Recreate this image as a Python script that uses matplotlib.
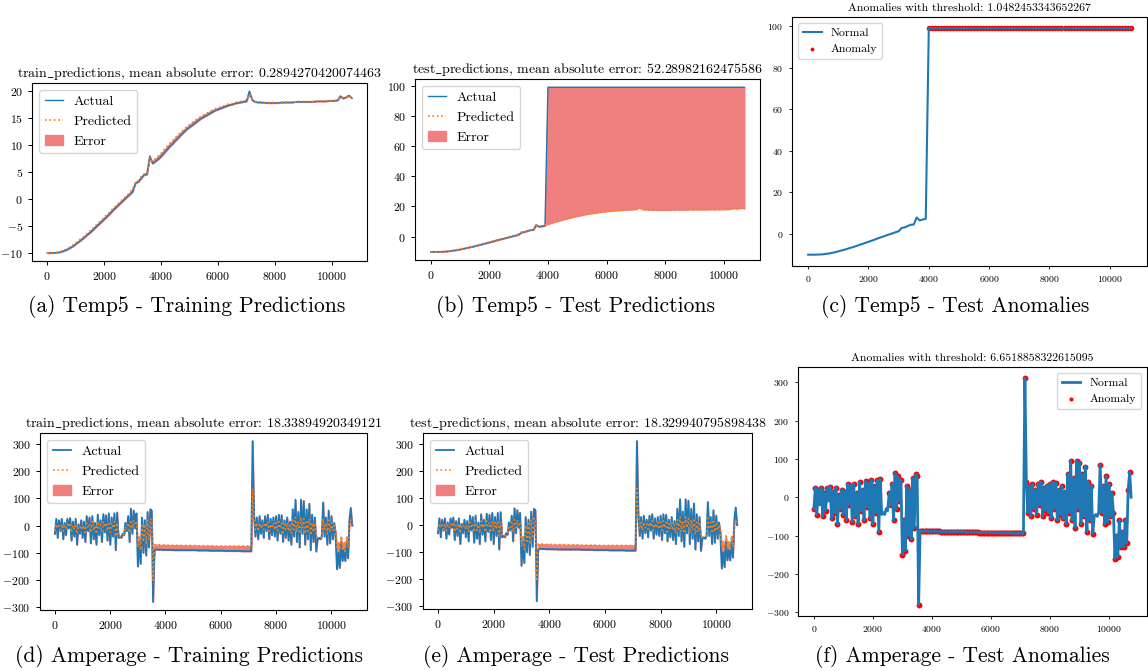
"""Temp5 / Amperage prediction and anomaly panels."""

import numpy as np
import matplotlib
matplotlib.use("Agg")
import matplotlib.pyplot as plt

plt.rcParams["font.family"] = ["cmr10", "DejaVu Serif"]
plt.rcParams["mathtext.fontset"] = "cm"
plt.rcParams["mathtext.default"] = "rm"
plt.rcParams["axes.formatter.use_mathtext"] = True

# ---- Temp5, sampled every 100 steps (0 .. 10700) ----
temp_x = np.arange(0, 10800, 100)
temp_actual = [
    -10.0, -10.0, -10.0, -9.95, -9.9, -9.8, -9.6, -9.4, -9.1, -8.8,
    -8.4, -8.0, -7.6, -7.2, -6.7, -6.3, -5.8, -5.3, -4.8, -4.3,
    -3.8, -3.3, -2.8, -2.2, -1.7, -1.2, -0.7, -0.2, 0.3, 0.8,
    1.3, 2.9, 3.1, 3.8, 4.4, 4.5, 7.9, 6.5, 6.9, 7.3,
    7.8, 8.4, 9.0, 9.6, 10.1, 10.7, 11.2, 11.8, 12.3, 12.8,
    13.2, 13.6, 14.0, 14.4, 14.8, 15.1, 15.4, 15.7, 16.0, 16.3,
    16.5, 16.7, 16.9, 17.1, 17.3, 17.4, 17.6, 17.7, 17.8, 17.9,
    18.0, 19.9, 18.2, 17.9, 17.8, 17.8, 17.8, 17.7, 17.7, 17.7,
    17.7, 17.7, 17.8, 17.8, 17.8, 17.8, 17.8, 17.9, 17.9, 17.9,
    17.9, 17.9, 17.9, 17.9, 18.0, 18.0, 18.0, 18.0, 18.0, 18.1,
    18.1, 18.1, 18.2, 19.0, 18.5, 18.8, 19.1, 18.6,
]
temp_pred = [
    -10.0, -10.0, -9.95, -9.9, -9.8, -9.65, -9.45, -9.2, -8.9, -8.55,
    -8.15, -7.75, -7.3, -6.9, -6.4, -5.95, -5.45, -4.95, -4.45, -3.95,
    -3.45, -2.95, -2.4, -1.85, -1.35, -0.85, -0.35, 0.15, 0.65, 1.1,
    1.8, 3.1, 3.4, 4.1, 4.6, 4.8, 7.6, 6.9, 7.4, 7.9,
    8.4, 9.0, 9.6, 10.2, 10.7, 11.3, 11.8, 12.3, 12.8, 13.3,
    13.7, 14.1, 14.5, 14.9, 15.2, 15.5, 15.8, 16.1, 16.4, 16.6,
    16.8, 17.0, 17.2, 17.4, 17.5, 17.6, 17.8, 17.9, 18.0, 18.1,
    18.2, 19.3, 18.4, 18.0, 17.9, 17.9, 17.8, 17.8, 17.8, 17.8,
    17.8, 17.8, 17.8, 17.9, 17.9, 17.9, 17.9, 17.9, 18.0, 18.0,
    18.0, 18.0, 18.0, 18.0, 18.0, 18.1, 18.1, 18.1, 18.1, 18.1,
    18.2, 18.2, 18.3, 18.8, 18.7, 18.8, 19.0, 18.7,
]
# test set: sensor jumps to 99 at ~3950 and stays there
temp_test_actual = [
    -10.0, -10.0, -10.0, -9.95, -9.9, -9.8, -9.6, -9.4, -9.1, -8.8,
    -8.4, -8.0, -7.6, -7.2, -6.7, -6.3, -5.8, -5.3, -4.8, -4.3,
    -3.8, -3.3, -2.8, -2.2, -1.7, -1.2, -0.7, -0.2, 0.3, 0.8,
    1.3, 2.9, 3.1, 3.8, 4.4, 4.5, 7.9, 6.5, 6.9, 7.3,
    99.0, 99.0, 99.0, 99.0, 99.0, 99.0, 99.0, 99.0, 99.0, 99.0,
    99.0, 99.0, 99.0, 99.0, 99.0, 99.0, 99.0, 99.0, 99.0, 99.0,
    99.0, 99.0, 99.0, 99.0, 99.0, 99.0, 99.0, 99.0, 99.0, 99.0,
    99.0, 99.0, 99.0, 99.0, 99.0, 99.0, 99.0, 99.0, 99.0, 99.0,
    99.0, 99.0, 99.0, 99.0, 99.0, 99.0, 99.0, 99.0, 99.0, 99.0,
    99.0, 99.0, 99.0, 99.0, 99.0, 99.0, 99.0, 99.0, 99.0, 99.0,
    99.0, 99.0, 99.0, 99.0, 99.0, 99.0, 99.0, 99.0,
]
temp_test_pred = temp_pred

# ---- Amperage, sampled every 50 steps (0 .. 10750) ----
amp_x = np.arange(0, 10800, 50)
amp_actual = [
    -30, 25, -45, 20, -20, 25, -50, 10, -35, 25,
    -10, 28, -55, 15, -40, 25, -70, 5, -30, 20,
    -45, 15, -60, 35, -20, 30, -65, 35, -50, 10,
    -70, 40, -35, 20, -60, 42, -25, 38, -55, 45,
    -70, 30, -40, 45, -90, 48, -45, -40, -45, -30,
    -35, 10, -20, 35, -60, 62, -30, 55, -10, 45,
    -150, -60, -140, 30, -100, 20, -110, 50, -80, 60,
    55, -280, -88, -88, -88, -88, -88, -88, -89, -89,
    -89, -89, -89, -89, -89, -89, -90, -90, -90, -90,
    -90, -90, -90, -90, -90, -90, -90, -90, -90, -90,
    -90, -90, -90, -91, -91, -91, -91, -91, -91, -91,
    -91, -91, -92, -92, -92, -92, -92, -92, -92, -92,
    -92, -92, -92, -93, -93, -93, -93, -93, -93, -93,
    -93, -93, -93, -93, -93, -94, -94, -94, -94, -94,
    -94, -94, -94, 310, 40, -40, 30, -50, 35, -30,
    20, -45, 35, -20, 40, -50, 25, -35, 30, -40,
    35, -55, 40, -30, 38, -60, 20, -45, 30, -55,
    15, -70, 60, -40, 95, -60, 50, -80, 95, -30,
    90, -70, 60, -50, 80, -90, 40, -60, 30, -95,
    -50, -45, -50, -40, 85, -40, 30, -70, 55, -65,
    35, -50, 10, -40, -160, -100, -155, -60, -130, -90,
    -130, -60, -120, 20, 65, 0,
]
amp_pred = [
    -20, 5, -10, 0, -15, 5, -20, 0, -10, 5,
    -5, 10, -25, 0, -15, 5, -30, -5, -10, 0,
    -15, 0, -25, 10, -5, 5, -25, 15, -20, 0,
    -30, 15, -10, 5, -25, 15, -5, 10, -20, 15,
    -25, 10, -10, 15, -40, 10, -40, -40, -40, -35,
    -30, -5, -10, 10, -25, 20, -10, 20, 0, 10,
    -80, -40, -90, 0, -60, 5, -70, 20, -50, 25,
    20, -200, -70, -70, -70, -70, -71, -71, -71, -71,
    -71, -71, -72, -72, -72, -72, -72, -72, -72, -72,
    -72, -72, -73, -73, -73, -73, -73, -73, -73, -73,
    -73, -73, -73, -74, -74, -74, -74, -74, -74, -74,
    -74, -74, -74, -74, -74, -75, -75, -75, -75, -75,
    -75, -75, -75, -75, -75, -75, -75, -75, -75, -75,
    -75, -75, -75, -75, -75, -75, -75, -75, -75, -75,
    -75, -75, -75, 135, 20, -15, 10, -20, 10, -10,
    5, -15, 10, -5, 15, -20, 5, -10, 10, -15,
    10, -20, 15, -10, 10, -25, 5, -15, 10, -20,
    0, -30, 20, -15, 30, -25, 15, -30, 30, -10,
    25, -30, 20, -20, 25, -35, 10, -25, 10, -40,
    -45, -45, -45, -40, 25, -15, 10, -30, 20, -25,
    10, -20, 0, -20, -80, -60, -90, -40, -85, -60,
    -95, -40, -80, 10, 20, 5,
]

temp_threshold = 1.0482453343652267
amp_threshold = 6.6518858322615095

titles = {
    "a": r"train$\_$predictions, mean absolute error: 0.2894270420074463",
    "b": r"test$\_$predictions, mean absolute error: 52.28982162475586",
    "d": r"train$\_$predictions, mean absolute error: 18.33894920349121",
    "e": r"test$\_$predictions, mean absolute error: 18.329940795898438",
}
captions = {
    "a": "(a) Temp5 - Training Predictions",
    "b": "(b) Temp5 - Test Predictions",
    "c": "(c) Temp5 - Test Anomalies",
    "d": "(d) Amperage - Training Predictions",
    "e": "(e) Amperage - Test Predictions",
    "f": "(f) Amperage - Test Anomalies",
}

W, H = 1148, 671
fig = plt.figure(figsize=(W / 100, H / 100), dpi=100)


def px_axes(l, t, r, b):
    return fig.add_axes([l / W, 1 - b / H, (r - l) / W, (b - t) / H])


def plot_predictions(ax, x, actual, pred, title, lw=1.0):
    ax.plot(x, actual, color="#1f77b4", linewidth=lw, label="Actual", zorder=2)
    ax.plot(x, pred, color="#ff7f0e", linestyle=":", linewidth=1.2,
            label="Predicted", zorder=3)
    ax.fill_between(x, actual, pred, color="lightcoral", label="Error", zorder=1)
    ax.set_title(title, fontsize=10, pad=4)
    ax.tick_params(labelsize=8.5, length=3, width=0.7)
    ax.legend(loc="upper left", fontsize=10, handlelength=1.3)


def plot_anomalies(ax, x, actual, pred, thr, loc, lw, size):
    actual = np.asarray(actual, dtype=float)
    err = np.abs(actual - np.asarray(pred, dtype=float))
    mask = err > thr
    ax.plot(x, actual, color="#1f77b4", linewidth=lw, label="Normal", zorder=2)
    ax.scatter(x[mask], actual[mask], color="red", s=size, linewidths=0,
               label="Anomaly", zorder=1)
    ax.set_title(f"Anomalies with threshold: {thr}", fontsize=8.5, pad=4)
    ax.tick_params(labelsize=7, length=2.5, width=0.6)
    ax.legend(loc=loc, fontsize=8.5, handlelength=1.6, markerscale=0.7)


ax_a = px_axes(32, 83, 367, 261)
plot_predictions(ax_a, temp_x, temp_actual, temp_pred, titles["a"])

ax_b = px_axes(415, 79, 760, 260)
plot_predictions(ax_b, temp_x, temp_test_actual, temp_test_pred, titles["b"])

ax_c = px_axes(792, 17, 1147, 266)
plot_anomalies(ax_c, temp_x, temp_test_actual, temp_test_pred, temp_threshold,
               "upper left", 1.5, 16)

ax_d = px_axes(40, 433, 367, 610)
plot_predictions(ax_d, amp_x, amp_actual, amp_pred, titles["d"], lw=1.3)

ax_e = px_axes(423, 433, 752, 609)
plot_predictions(ax_e, amp_x, amp_actual, amp_pred, titles["e"], lw=1.3)

ax_f = px_axes(798, 367, 1147, 616)
plot_anomalies(ax_f, amp_x, amp_actual, amp_pred, amp_threshold,
               "upper right", 2.0, 18)

# subfigure captions
for key, cx, cy in [("a", 187, 307), ("b", 576, 307), ("c", 955, 307),
                    ("d", 189, 657), ("e", 576, 657), ("f", 962, 657)]:
    fig.text(cx / W, 1 - cy / H, captions[key], ha="center", va="center",
             fontsize=15.5)

fig.savefig("out.png", dpi=100)
